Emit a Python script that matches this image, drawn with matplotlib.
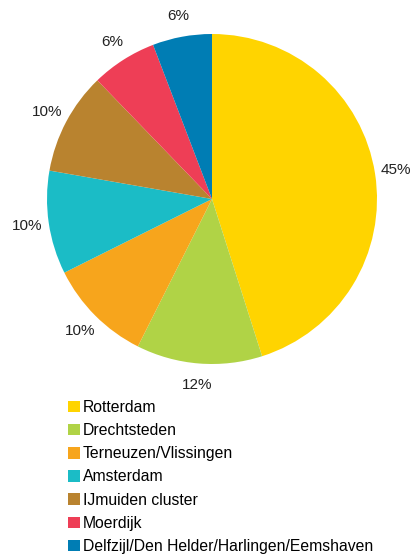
import matplotlib.pyplot as plt

plt.rcParams['font.family'] = ['Liberation Sans', 'DejaVu Sans']

havens = ['Rotterdam', 'Drechtsteden', 'Terneuzen/Vlissingen', 'Amsterdam',
          'IJmuiden cluster', 'Moerdijk', 'Delfzijl/Den Helder/Harlingen/Eemshaven']
aandeel = [45, 12.3, 10.2, 10.1, 10.0, 6.4, 5.8]
kleuren = ['#FFD400', '#B0D346', '#F7A51C', '#1BBCC6', '#B9832F', '#EE3E56', '#007DB4']

W, H = 412, 556
fig = plt.figure(figsize=(W / 100, H / 100), dpi=100)

# pie centre ~(212, 199) px, radius ~165 px
cx, cy, r = 212, 199, 165
ax = fig.add_axes([(cx - r) / W, (H - cy - r) / H, 2 * r / W, 2 * r / H])
wedges, teksten, pct = ax.pie(aandeel, colors=kleuren, startangle=90, counterclock=False,
                              autopct='%.0f%%', pctdistance=1.13,
                              textprops={'fontsize': 11, 'color': '#222222'},
                              wedgeprops={'linewidth': 0})
ax.set_xlim(-1, 1)
ax.set_ylim(-1, 1)

fig.legend(wedges, havens, loc='upper left', bbox_to_anchor=(68 / W, 1 - 400 / H),
           frameon=False, fontsize=11.3, handlelength=0.75, handleheight=0.75,
           handletextpad=0.2, labelspacing=0.52, borderpad=0, borderaxespad=0)

plt.savefig('out.png', dpi=100)
